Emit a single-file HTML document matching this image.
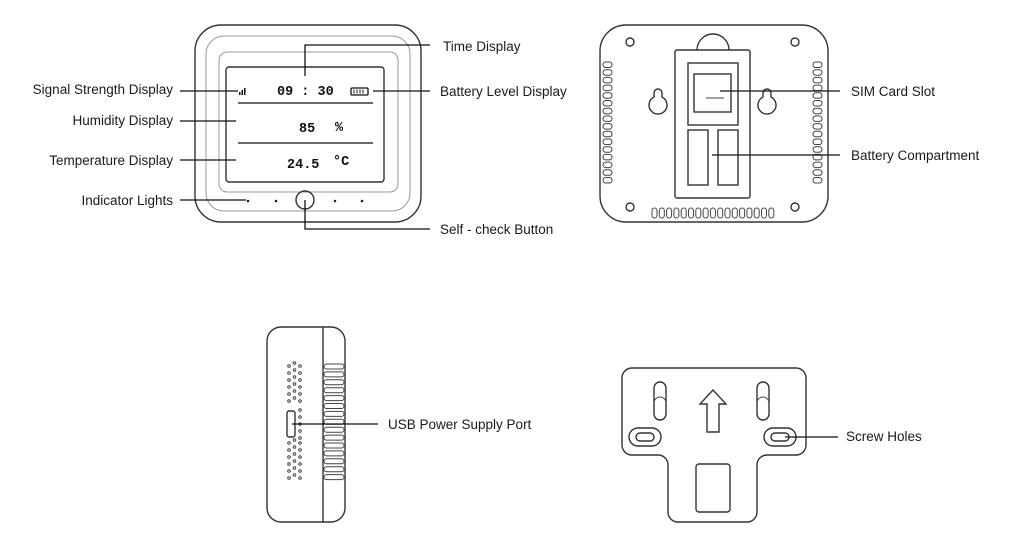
<!DOCTYPE html>
<html><head><meta charset="utf-8"><style>
html,body{margin:0;padding:0;background:#fff;width:1024px;height:557px;overflow:hidden}
svg{display:block}
text{font-family:"Liberation Sans",sans-serif;font-size:13.5px;fill:#1a1a1a}
.s{fill:none;stroke:#333;stroke-width:1.4}
.t{fill:none;stroke:#444;stroke-width:1}
.g{fill:none;stroke:#999;stroke-width:1}
.l{stroke:#111;stroke-width:1.3;fill:none}
.d{font-family:"Liberation Mono",monospace;font-weight:bold;fill:#111}
</style></head><body>
<svg id="sv" width="1024" height="557" viewBox="0 0 1024 557">
<rect class="s" x="195" y="25" width="226" height="197" rx="26"/>
<rect class="g" x="206" y="36" width="204" height="175" rx="18"/>
<rect class="g" x="219" y="52" width="179" height="140" rx="8"/>
<rect class="s" x="226" y="67" width="158" height="115" rx="3"/>
<line class="l" x1="238" y1="103" x2="373" y2="103"/>
<line class="l" x1="238" y1="143" x2="373" y2="143"/>
<text class="d" x="277" y="95" font-size="18">09 : 30</text>
<text class="d" x="299" y="132" font-size="17">85</text>
<text class="d" x="335" y="131" font-size="8">%</text>
<text class="d" x="287" y="168" font-size="17">24.5</text>
<text class="d" x="333" y="165" font-size="8">°C</text>
<rect x="239" y="92" width="1.5" height="3" fill="#111"/><rect x="241.5" y="90" width="1.5" height="5" fill="#111"/><rect x="244" y="88" width="1.5" height="7" fill="#111"/>
<rect x="351" y="88" width="17" height="7" fill="none" stroke="#111" stroke-width="1.3" rx="1"/>
<line x1="354" y1="89.5" x2="354" y2="93.5" stroke="#111"/><line x1="357" y1="89.5" x2="357" y2="93.5" stroke="#111"/><line x1="360" y1="89.5" x2="360" y2="93.5" stroke="#111"/><line x1="363" y1="89.5" x2="363" y2="93.5" stroke="#111"/>
<circle class="s" cx="305" cy="200" r="9"/>
<circle cx="248" cy="201" r="1.3" fill="#222"/><circle cx="276" cy="201" r="1.3" fill="#222"/><circle cx="335" cy="201" r="1.3" fill="#222"/><circle cx="362" cy="201" r="1.3" fill="#222"/>
<polyline class="l" points="305,76 305,45 430,45"/>
<line class="l" x1="373" y1="91" x2="430" y2="91"/>
<line class="l" x1="180" y1="91" x2="238" y2="91"/>
<line class="l" x1="180" y1="121" x2="236" y2="121"/>
<line class="l" x1="180" y1="160" x2="236" y2="160"/>
<line class="l" x1="180" y1="200" x2="246" y2="200"/>
<polyline class="l" points="305,200 305,229 430,229"/>
<text x="173" y="94" text-anchor="end">Signal Strength Display</text>
<text x="173" y="125" text-anchor="end">Humidity Display</text>
<text x="173" y="165" text-anchor="end">Temperature Display</text>
<text x="173" y="205" text-anchor="end">Indicator Lights</text>
<text x="443" y="51">Time Display</text>
<text x="440" y="96">Battery Level Display</text>
<text x="440" y="234">Self - check Button</text>
<path class="s" d="M697,50 A16,16 0 0 1 729,50"/>
<rect class="s" x="600" y="25" width="228" height="197" rx="26" fill="#fff"/>
<circle class="s" cx="630" cy="42" r="4"/><circle class="s" cx="795" cy="42" r="4"/><circle class="s" cx="630" cy="207" r="4"/><circle class="s" cx="795" cy="207" r="4"/>
<rect class="s" x="675" y="50" width="75" height="148" rx="2"/>
<rect class="s" x="688" y="63" width="50" height="62"/>
<rect class="s" x="694" y="74" width="37" height="38"/>
<line class="t" x1="706" y1="98" x2="724" y2="98"/>
<rect class="s" x="688" y="130" width="20" height="55"/>
<rect class="s" x="718" y="130" width="20" height="55"/>
<path class="s" d="M654,93 a4,4 0 0 1 8,0 v4 a9,9 0 1 1 -8,0z"/>
<path class="s" d="M763,93 a4,4 0 0 1 8,0 v4 a9,9 0 1 1 -8,0z"/>
<g id="vents"></g>
<line class="l" x1="720" y1="91" x2="840" y2="91"/>
<line class="l" x1="712" y1="155" x2="840" y2="155"/>
<text x="851" y="96">SIM Card Slot</text>
<text x="851" y="160">Battery Compartment</text>
<rect class="s" x="267" y="327" width="78" height="195" rx="14"/>
<line class="s" x1="323" y1="327" x2="323" y2="522"/>
<rect class="s" x="287" y="411" width="8" height="26" rx="2"/>
<g id="side"></g>
<line class="l" x1="292" y1="424" x2="378" y2="424"/>
<text x="388" y="429">USB Power Supply Port</text>
<path class="s" d="M632,368 H796 a10,10 0 0 1 10,10 V445 a10,10 0 0 1 -10,10 H767 a10,10 0 0 0 -10,10 V512 a10,10 0 0 1 -10,10 H678 a10,10 0 0 1 -10,-10 V465 a10,10 0 0 0 -10,-10 H632 a10,10 0 0 1 -10,-10 V378 a10,10 0 0 1 10,-10z"/>
<rect class="s" x="654" y="382" width="12" height="38" rx="6"/>
<path class="t" d="M654,403 a6,6 0 0 1 12,0"/>
<rect class="s" x="757" y="382" width="12" height="38" rx="6"/>
<path class="t" d="M757,403 a6,6 0 0 1 12,0"/>
<path class="s" d="M713,390 L700,404 H707 V432 H719 V404 H726 Z"/>
<rect class="s" x="629" y="428" width="32" height="18" rx="9"/>
<rect class="s" x="636" y="433" width="18" height="8" rx="4"/>
<rect class="s" x="764" y="428" width="32" height="18" rx="9"/>
<rect class="s" x="771" y="433" width="18" height="8" rx="4"/>
<rect class="s" x="696" y="464" width="34" height="48" rx="3"/>
<line class="l" x1="785" y1="437" x2="838" y2="437"/>
<text x="846" y="441">Screw Holes</text>
</svg>
<script>
var ns="http://www.w3.org/2000/svg";
function R(g,x,y,w,h,rx){var r=document.createElementNS(ns,"rect");r.setAttribute("x",x);r.setAttribute("y",y);r.setAttribute("width",w);r.setAttribute("height",h);r.setAttribute("rx",rx);r.setAttribute("class","t");g.appendChild(r);}
var v=document.getElementById("vents");
for(var i=0;i<16;i++){R(v,603,62+i*7.7,9,5.5,2.7);R(v,813,62+i*7.7,9,5.5,2.7);}
for(var i=0;i<17;i++){R(v,652+i*7.3,208,5,10,2.5);}
var s=document.getElementById("side");
for(var i=0;i<15;i++){R(s,324,364+i*7.9,20,5,2.5);}
for(var r=0;r<17;r++){var y=366+r*7;if(y>405&&y<440)continue;
 for(var c=0;c<3;c++){var cc=document.createElementNS(ns,"circle");cc.setAttribute("cx",289+c*5.5);cc.setAttribute("cy",y+(c==1?-3:0));cc.setAttribute("r",1.3);cc.setAttribute("class","t");s.appendChild(cc);}}
for(var r=0;r<5;r++){var cc=document.createElementNS(ns,"circle");cc.setAttribute("cx",300);cc.setAttribute("cy",410+r*7);cc.setAttribute("r",1.3);cc.setAttribute("class","t");s.appendChild(cc);}
</script>
</body></html>
